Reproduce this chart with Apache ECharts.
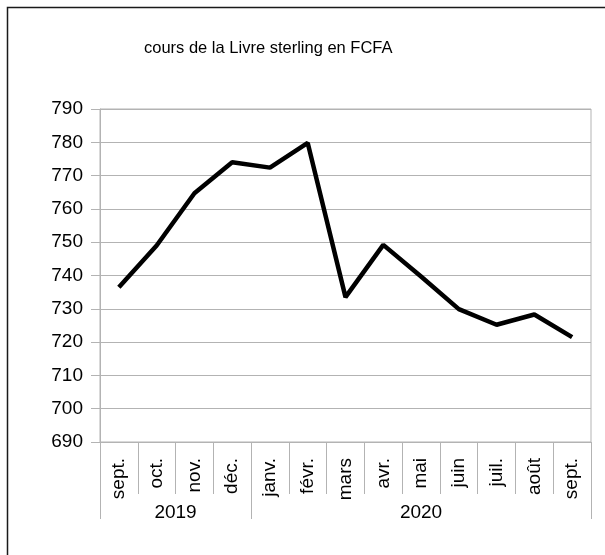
<!DOCTYPE html>
<html>
<head>
<meta charset="utf-8">
<script src="https://cdn.jsdelivr.net/npm/echarts@6/dist/echarts.min.js"></script>
<style>
  html, body { margin: 0; padding: 0; background: #fff; }
  #chart { width: 605px; height: 555px; }
</style>
</head>
<body>
<div id="chart"></div>
<script>
// data
const months = ['sept.', 'oct.', 'nov.', 'déc.', 'janv.', 'févr.', 'mars', 'avr.', 'mai', 'juin', 'juil.', 'août', 'sept.'];
const rates = [736.5, 749, 764.7, 774, 772.4, 779.8, 733.5, 749.2, 739.7, 729.9, 725.2, 728.3, 721.5];
const years = ['2019', '2020'];
const yearMonths = [4, 9]; // how many months fall in each year

// where each year starts / its middle, in category units
const yearStarts = [];
const yearMiddles = {};
let acc = 0;
years.forEach((y, i) => {
    yearStarts.push(acc);
    yearMiddles[acc + yearMonths[i] / 2] = y;
    acc += yearMonths[i];
});

const grey = '#b3b3b3';
const font = 'Liberation Sans, Arial, sans-serif';

const chart = echarts.init(document.getElementById('chart'));

const option = {
    animation: false,
    title: {
        text: 'cours de la Livre sterling en FCFA',
        left: 144,
        top: 40,
        padding: 0,
        textStyle: { fontFamily: font, fontSize: 16.5, fontWeight: 'normal', color: '#000' }
    },
    graphic: [{
        type: 'rect',
        shape: { x: 7.5, y: 7.5, width: 700, height: 700 },
        style: { fill: 'none', stroke: '#1a1a1a', lineWidth: 1.5 },
        silent: true
    }],
    grid: {
        left: 100, right: 14, top: 109, bottom: 113,
        show: true, borderColor: grey, borderWidth: 1, backgroundColor: 'transparent'
    },
    xAxis: [
        {
            type: 'category',
            data: months,
            boundaryGap: true,
            axisLine: { lineStyle: { color: grey } },
            axisTick: { show: true, interval: 0, length: 52, lineStyle: { color: grey } },
            axisLabel: {
                interval: 0, rotate: 90, margin: 16,
                fontFamily: font, fontSize: 19, color: '#000'
            }
        },
        {
            type: 'category',
            data: months,
            position: 'bottom',
            offset: 52,
            axisLine: { show: false },
            axisTick: {
                show: true, length: 25,
                interval: (i) => yearStarts.indexOf(i) >= 0,
                lineStyle: { color: grey }
            },
            axisLabel: { show: false }
        },
        {
            type: 'value',
            min: 0, max: months.length, interval: 0.5,
            position: 'bottom',
            offset: 52,
            axisLine: { show: false },
            axisTick: { show: false },
            splitLine: { show: false },
            axisLabel: {
                margin: 9,
                fontFamily: font, fontSize: 19, color: '#000',
                showMinLabel: true, showMaxLabel: true,
                formatter: (v) => yearMiddles[v] || ''
            }
        }
    ],
    yAxis: {
        type: 'value',
        min: 690, max: 790, interval: 10,
        axisLine: { show: true, lineStyle: { color: grey } },
        axisTick: { show: true, length: 9, lineStyle: { color: grey } },
        splitLine: { lineStyle: { color: grey } },
        axisLabel: { margin: 17, fontFamily: font, fontSize: 19, color: '#000' }
    },
    series: [{
        type: 'line',
        data: rates,
        showSymbol: false,
        symbol: 'none',
        lineStyle: { color: '#000', width: 4.5 }
    }]
};

chart.setOption(option);
</script>
</body>
</html>
